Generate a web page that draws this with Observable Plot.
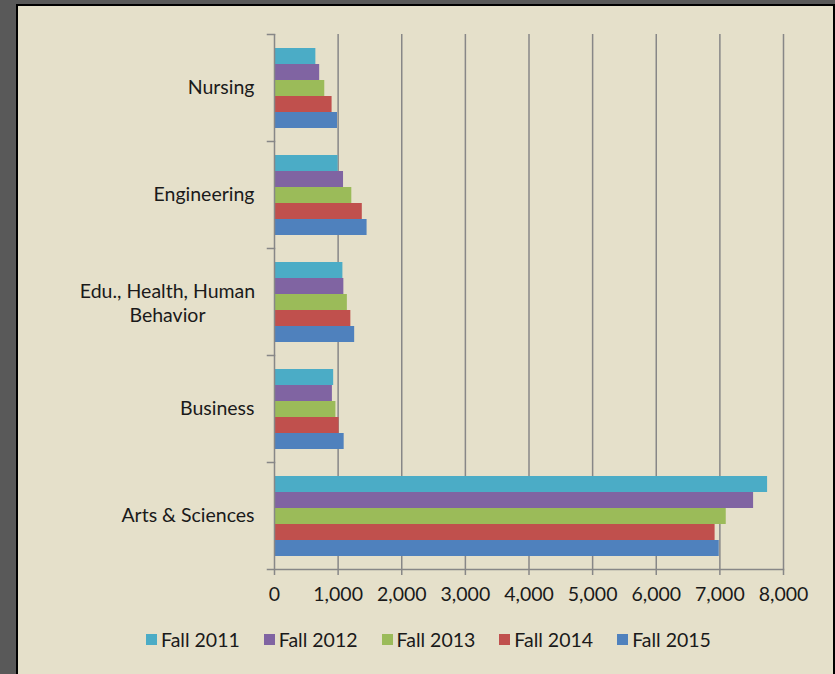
<!DOCTYPE html>
<html>
<head>
<meta charset="utf-8">
<script src="https://cdn.jsdelivr.net/npm/d3@7"></script>
<script src="https://cdn.jsdelivr.net/npm/@observablehq/plot@0.6"></script>
<style>
  html, body { margin: 0; padding: 0; background: #595959; width: 835px; height: 674px; overflow: hidden; }
  #box {
    position: absolute; left: 16px; top: 4px; width: 815px; height: 680px;
    border-left: 2px solid #000; border-top: 2px solid #000; border-right: 2px solid #000;
    background: #E5E0CA;
  }
  #box svg { display: block; }
  #legend { margin-top: 7px; margin-left: 128px; font-family: Lato, sans-serif; font-size: 19.5px; color: #1a1a1a; }
  .lg-swatch { margin-right: 24px !important; }
  .lg-swatch > svg { margin-right: 4px !important; }
</style>
</head>
<body>
<div id="box"><div id="chart"></div><div id="legend"></div></div>
<script>
const categories = ["Nursing", "Engineering", "Edu., Health, Human Behavior", "Business", "Arts & Sciences"];
const categoryLabels = ["Nursing", "Engineering", "Edu., Health, Human\nBehavior", "Business", "Arts & Sciences"];
const series = ["Fall 2011", "Fall 2012", "Fall 2013", "Fall 2014", "Fall 2015"];
const fall2011 = [650, 1000, 1075, 930, 7750];
const fall2012 = [710, 1085, 1090, 910, 7530];
const fall2013 = [790, 1215, 1145, 965, 7100];
const fall2014 = [905, 1380, 1200, 1015, 6925];
const fall2015 = [990, 1455, 1260, 1095, 6990];
const xTicks = [0, 1000, 2000, 3000, 4000, 5000, 6000, 7000, 8000];
const colors = ["#4BACC6", "#8064A2", "#9BBB59", "#C0504D", "#4F81BD"];

const seriesValues = [fall2011, fall2012, fall2013, fall2014, fall2015];
const data = [];
categories.forEach((c, i) => series.forEach((s, j) => data.push({category: c, series: s, value: seriesValues[j][i]})));

const gray = "#878787";
const labelData = categories.map((c, i) => ({category: c, label: categoryLabels[i]}));

const plot = Plot.plot({
  width: 815,
  height: 610,
  marginLeft: 256,
  marginRight: 50,
  marginTop: 26,
  marginBottom: 45,
  style: {background: "transparent", fontFamily: "Lato, sans-serif", fontSize: "19.5px", color: "#1a1a1a"},
  x: {domain: [0, 8000], axis: null, label: null},
  y: {domain: series, paddingInner: 0, paddingOuter: 0.75, axis: null},
  fy: {domain: categories, padding: 0, axis: null},
  color: {domain: series, range: colors},
  marks: [
    Plot.ruleX(xTicks.slice(1), {stroke: gray, strokeWidth: 1.5}),
    Plot.barX(data, {x: "value", y: "series", fy: "category", fill: "series"}),
    Plot.ruleX([0], {stroke: gray, strokeWidth: 1.5}),
    Plot.frame({anchor: "top", insetLeft: -7, strokeDasharray: "7 5000", stroke: gray, strokeWidth: 1.5}),
    Plot.frame({anchor: "bottom", facetAnchor: "bottom", insetLeft: -7, stroke: gray, strokeWidth: 1.5}),
    Plot.axisX({ticks: xTicks, tickSize: 6, tickPadding: 12, tickFormat: d3.format(","), label: null, stroke: gray, strokeWidth: 1.5, fill: "#1a1a1a", anchor: "bottom"}),
    Plot.text(labelData, {filter: d => !d.label.includes("\n"), fy: "category", text: "label", frameAnchor: "left", dx: -20, textAnchor: "end", fill: "#1a1a1a"}),
    Plot.text(labelData, {filter: d => d.label.includes("\n"), fy: "category", text: "label", frameAnchor: "left", dx: -107, textAnchor: "middle", lineHeight: 1.25, fill: "#1a1a1a"})
  ]
});
document.getElementById("chart").appendChild(plot);

const legend = Plot.legend({color: {type: "categorical", domain: series, range: colors}, legend: "swatches", swatchSize: 11, className: "lg", style: {fontFamily: "Lato, sans-serif", fontSize: "19.5px", color: "#1a1a1a"}});
document.getElementById("legend").appendChild(legend);
</script>
</body>
</html>
